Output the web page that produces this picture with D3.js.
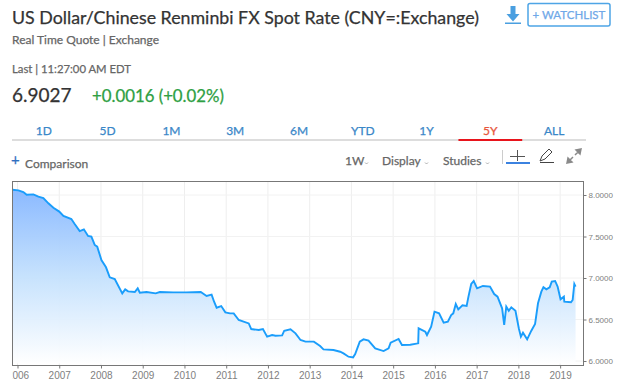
<!DOCTYPE html>
<html>
<head>
<meta charset="utf-8">
<script src="https://cdnjs.cloudflare.com/ajax/libs/d3/7.8.5/d3.min.js"></script>
<style>
  html, body { margin: 0; padding: 0; background: #fff; }
  svg { display: block; }
  text { font-family: Lato, sans-serif; }
  .axis text { font-family: "Liberation Sans", sans-serif; fill: #808080; }
</style>
</head>
<body>
<svg width="618" height="389"></svg>
<script>
// decimal years
var rateYears = [2005.88,2006.02,2006.14,2006.22,2006.38,2006.50,2006.62,2006.74,2006.86,2007.00,2007.10,2007.29,2007.37,2007.49,2007.59,2007.69,2007.77,2007.85,2007.91,2008.01,2008.12,2008.21,2008.33,2008.51,2008.58,2008.65,2008.81,2008.88,2008.93,2009.09,2009.31,2009.41,2009.73,2010.04,2010.39,2010.53,2010.65,2010.71,2010.77,2010.88,2010.98,2011.09,2011.18,2011.30,2011.54,2011.60,2011.78,2011.88,2011.98,2012.10,2012.18,2012.34,2012.39,2012.54,2012.66,2012.78,2012.90,2013.10,2013.25,2013.33,2013.57,2013.73,2013.81,2013.93,2014.04,2014.09,2014.20,2014.29,2014.41,2014.57,2014.77,2014.89,2014.94,2015.13,2015.21,2015.41,2015.60,2015.61,2015.77,2015.81,2015.91,2015.99,2016.10,2016.21,2016.31,2016.39,2016.44,2016.50,2016.56,2016.66,2016.76,2016.80,2016.87,2016.93,2017.01,2017.15,2017.32,2017.42,2017.50,2017.61,2017.66,2017.71,2017.77,2017.83,2017.93,2018.01,2018.06,2018.11,2018.21,2018.31,2018.40,2018.47,2018.55,2018.60,2018.67,2018.75,2018.80,2018.88,2018.94,2019.01,2019.09,2019.10,2019.26,2019.30,2019.34,2019.37];
var rateValues = [8.064,8.056,8.036,8.004,8.008,7.980,7.964,7.900,7.847,7.800,7.747,7.711,7.651,7.566,7.586,7.506,7.498,7.398,7.378,7.217,7.129,7.008,6.988,6.815,6.863,6.839,6.831,6.876,6.823,6.831,6.815,6.831,6.827,6.827,6.831,6.783,6.799,6.714,6.642,6.662,6.586,6.574,6.574,6.494,6.453,6.385,6.373,6.385,6.293,6.313,6.305,6.309,6.365,6.381,6.333,6.253,6.233,6.233,6.180,6.140,6.132,6.112,6.092,6.052,6.044,6.084,6.233,6.261,6.245,6.152,6.120,6.152,6.221,6.265,6.192,6.196,6.213,6.394,6.353,6.313,6.414,6.594,6.574,6.462,6.474,6.554,6.574,6.687,6.622,6.671,6.663,6.767,6.928,6.964,6.876,6.904,6.896,6.807,6.775,6.635,6.434,6.655,6.606,6.647,6.606,6.394,6.293,6.341,6.261,6.365,6.446,6.695,6.835,6.888,6.863,6.888,6.956,6.964,6.896,6.743,6.775,6.715,6.707,6.735,6.928,6.896];
var xTicks = [2006,2007,2008,2009,2010,2011,2012,2013,2014,2015,2016,2017,2018,2019];
var yTicks = [8,7.5,7,6.5,6];
var tabs = ["1D","5D","1M","3M","6M","YTD","1Y","5Y","ALL"];
var activeTab = "5Y";
var rows = rateYears.map(function(y, i) { return {year: y, rate: rateValues[i]}; });

var svg = d3.select("svg");

// header, the thin stroke brings Lato up to the weight of the original face
var addText = function(str, x, y, size, color, anchor) {
    return svg.append("text")
        .attr("x", x).attr("y", y)
        .attr("font-size", size)
        .attr("fill", color)
        .attr("stroke", color)
        .attr("stroke-width", 0.25)
        .attr("text-anchor", anchor || "start")
        .text(str);
};
addText("US Dollar/Chinese Renminbi FX Spot Rate (CNY=:Exchange)", 12, 24, 17.8, "#333333");
addText("Real Time Quote | Exchange", 12, 44, 12, "#666666");
addText("Last | 11:27:00 AM EDT", 12, 73, 11.3, "#666666");
addText("6.9027", 12, 102, 19, "#333333");
addText("+0.0016 (+0.02%)", 92, 102, 16.8, "#2ea043");

// download icon
svg.append("path")
    .attr("d", "M510.5 6h5v8h4l-6.500 7.500l-6.500 -7.500h4z")
    .attr("fill", "#4a9fe0");
svg.append("rect").attr("x", 505).attr("y", 22.500).attr("width", 16).attr("height", 1.500).attr("fill", "#4a9fe0");

// watchlist button
svg.append("rect")
    .attr("x", 528).attr("y", 3.500).attr("width", 82).attr("height", 22.500).attr("rx", 2)
    .attr("fill", "none").attr("stroke", "#4ea5e6").attr("stroke-width", 1.500);
addText("+ WATCHLIST", 532.500, 19, 11.500, "#6fa8e8");

// range tabs
var tabScale = d3.scaleBand().domain(tabs).range([12, 586]);
svg.append("line").attr("x1", 12).attr("x2", 586).attr("y1", 140).attr("y2", 140)
    .attr("stroke", "#dddddd").attr("stroke-width", 2);
svg.append("line")
    .attr("x1", tabScale(activeTab)).attr("x2", tabScale(activeTab) + tabScale.bandwidth())
    .attr("y1", 140).attr("y2", 140)
    .attr("stroke", "#e8141c").attr("stroke-width", 2);
svg.selectAll("text.tab")
    .data(tabs)
    .enter().append("text")
    .attr("class", "tab")
    .attr("x", function(d) { return tabScale(d) + tabScale.bandwidth() / 2; })
    .attr("y", 135)
    .attr("text-anchor", "middle")
    .attr("font-size", 12)
    .attr("fill", function(d) { return d === activeTab ? "#e8563c" : "#3a87c8"; })
    .attr("stroke", function(d) { return d === activeTab ? "#e8563c" : "#3a87c8"; })
    .attr("stroke-width", 0.25)
    .text(function(d) { return d; });

// toolbar
addText("+", 11, 165, 15, "#2f6fc0");
addText("Comparison", 25, 168, 12, "#666666");
addText("1W", 345, 165, 12, "#666666");
addText("Display", 382, 165, 12, "#666666");
addText("Studies", 443, 165, 12, "#666666");
[365, 425, 486].forEach(function(cx) {
    svg.append("path").attr("d", "M" + cx + " 162.500l1.500 1.500l1.500 -1.500")
        .attr("fill", "none").attr("stroke", "#999999").attr("stroke-width", 0.800);
});
svg.append("line").attr("x1", 502.500).attr("x2", 502.500).attr("y1", 150).attr("y2", 164).attr("stroke", "#cccccc");
svg.append("path").attr("d", "M510 156.500h15M517.500 150v11").attr("stroke", "#555555").attr("fill", "none");
svg.append("rect").attr("x", 506).attr("y", 162).attr("width", 24).attr("height", 2).attr("fill", "#3b82e0");
svg.append("path").attr("d", "M540 161l2 -5l7 -7l3 3l-7 7zM540 162.500h14").attr("stroke", "#444444").attr("fill", "none");
svg.append("path").attr("d", "M567 163l5 -1l-4 -4zM581 149l-5 1l4 4zM570 160l3 -3M578 152l-3 3")
    .attr("stroke", "#8a8a8a").attr("stroke-width", 1.500).attr("fill", "#8a8a8a");

// chart
var margin = {top: 181.500, right: 34.500, bottom: 23.500, left: 12.500};
var plotWidth = 618 - margin.left - margin.right;
var plotHeight = 389 - margin.top - margin.bottom;

var xScale = d3.scaleLinear()
    .domain([2005.88, 2019.56])
    .range([0, plotWidth]);
var yScale = d3.scaleLinear()
    .domain([6, 8])
    .range([361 - margin.top, 195 - margin.top]);

var defs = svg.append("defs");
var grad = defs.append("linearGradient")
    .attr("id", "areaFill")
    .attr("x1", 0).attr("x2", 0).attr("y1", 0).attr("y2", 1);
grad.append("stop").attr("offset", "0%").attr("stop-color", "#85b6ff");
grad.append("stop").attr("offset", "50%").attr("stop-color", "#c4e1fd");
grad.append("stop").attr("offset", "100%").attr("stop-color", "#ffffff");
defs.append("clipPath").attr("id", "xClip").append("rect")
    .attr("x", 0).attr("y", 0).attr("width", plotWidth).attr("height", 30);

var plot = svg.append("g")
    .attr("id", "plot")
    .attr("transform", "translate(" + margin.left + "," + margin.top + ")");

// grid
plot.selectAll("line.vgrid").data(xTicks).enter().append("line")
    .attr("class", "vgrid")
    .attr("x1", function(d) { return xScale(d); })
    .attr("x2", function(d) { return xScale(d); })
    .attr("y1", 0).attr("y2", plotHeight)
    .attr("stroke", "#eeeeee");
plot.selectAll("line.hgrid").data(yTicks).enter().append("line")
    .attr("class", "hgrid")
    .attr("x1", 0).attr("x2", plotWidth)
    .attr("y1", function(d) { return yScale(d); })
    .attr("y2", function(d) { return yScale(d); })
    .attr("stroke", "#f2f2f2");

var area = d3.area()
    .x(function(d) { return xScale(d.year); })
    .y0(yScale(5.97))
    .y1(function(d) { return yScale(d.rate); });
var line = d3.line()
    .x(function(d) { return xScale(d.year); })
    .y(function(d) { return yScale(d.rate); });

plot.append("path").datum(rows)
    .attr("d", area)
    .attr("fill", "url(#areaFill)")
    .attr("fill-opacity", 0.95);
plot.append("path").datum(rows)
    .attr("d", line)
    .attr("fill", "none")
    .attr("stroke", "#1a9dfb")
    .attr("stroke-width", 1.900);

// frame
plot.append("rect")
    .attr("width", plotWidth).attr("height", plotHeight)
    .attr("fill", "none").attr("stroke", "#777777");

// axes
var xAxis = d3.axisBottom(xScale)
    .tickValues(xTicks)
    .tickFormat(d3.format("d"))
    .tickSize(3)
    .tickPadding(3);
var yAxis = d3.axisRight(yScale)
    .tickValues(yTicks)
    .tickFormat(d3.format(".4f"))
    .tickSize(3)
    .tickPadding(2);

var xClipGroup = plot.append("g")
    .attr("clip-path", "url(#xClip)")
    .attr("transform", "translate(0," + plotHeight + ")");
var xGroup = xClipGroup.append("g").attr("class", "axis").call(xAxis);
xGroup.attr("font-size", 10);
xGroup.select(".domain").remove();
xGroup.selectAll(".tick line").attr("stroke", "#777777");

var yGroup = plot.append("g")
    .attr("class", "axis")
    .attr("transform", "translate(" + plotWidth + ",0)")
    .call(yAxis);
yGroup.attr("font-size", 8);
yGroup.select(".domain").remove();
yGroup.selectAll(".tick line").attr("stroke", "#777777");
</script>
</body>
</html>
